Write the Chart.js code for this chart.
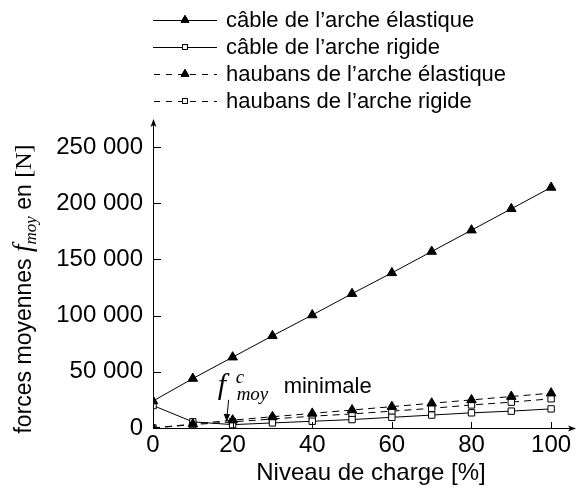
<!DOCTYPE html>
<html>
<head>
<meta charset="utf-8">
<script src="https://cdn.jsdelivr.net/npm/chart.js@4.4.0/dist/chart.umd.min.js"></script>
<style>
  html, body { margin: 0; padding: 0; background: #fff; }
  #wrap { width: 587px; height: 494px; }
</style>
</head>
<body>
<div id="wrap"><canvas id="graficoForces"></canvas></div>
<script>
// Données (niveau de charge en %, forces en N)
const niveaux = [0, 10, 20, 30, 40, 50, 60, 70, 80, 90, 100];
const cableElastique = [24000, 44000, 63000, 82000, 100500, 119500, 138000, 157000, 176000, 195000, 214000];
const cableRigide = [20000, 5500, 3000, 4500, 6000, 7500, 9500, 11500, 13500, 15000, 17000];
const haubansElastique = [0, 3500, 7000, 10000, 13000, 16000, 19000, 22000, 25000, 28000, 31000];
const haubansRigide = [0, 3000, 5500, 8000, 10500, 12500, 15000, 17500, 20500, 23000, 26000];

const nomsSeries = [
    "câble de l’arche élastique",
    "câble de l’arche rigide",
    "haubans de l’arche élastique",
    "haubans de l’arche rigide"
];
const ticksX = [0, 20, 40, 60, 80, 100];
const ticksY = [0, 50000, 100000, 150000, 200000, 250000];
const annotation = { x: 18.5, y: 5500, texte: "minimale" };

const SANS = "'Liberation Sans', 'Noto Sans', sans-serif";
const SERIF = "'Liberation Serif', 'DejaVu Serif', serif";

function points(valeurs) {
    return niveaux.map((x, i) => ({ x: x, y: valeurs[i] }));
}

function formatMilliers(v) {
    return String(v).replace(/\B(?=(\d{3})+(?!\d))/g, ' ');
}

// style commun des séries
const styleTriangle = { pointStyle: 'triangle', pointRadius: 5.5, pointBackgroundColor: '#000', pointBorderColor: '#000', pointBorderWidth: 1 };
const styleCarre = { pointStyle: 'rect', pointRadius: 4.5, pointBackgroundColor: '#fff', pointBorderColor: '#000', pointBorderWidth: 1 };
const tirets = [7, 5];

const series = [
    Object.assign({ label: nomsSeries[0], data: points(cableElastique), borderDash: [], order: 0 }, styleTriangle),
    Object.assign({ label: nomsSeries[1], data: points(cableRigide), borderDash: [], order: 2 }, styleCarre),
    Object.assign({ label: nomsSeries[2], data: points(haubansElastique), borderDash: tirets, order: 1 }, styleTriangle),
    Object.assign({ label: nomsSeries[3], data: points(haubansRigide), borderDash: tirets, order: 3 }, styleCarre)
];
series.forEach(s => {
    s.borderColor = '#000';
    s.borderWidth = 1;
    s.showLine = true;
    s.tension = 0;
    s.fill = false;
});

// Plugin : axes fléchés, graduations internes, légende, titres, annotation
const decorations = {
    id: 'decorations',
    afterDraw(chart) {
        const ctx = chart.ctx;
        const area = chart.chartArea;
        const sx = chart.scales.x;
        const sy = chart.scales.y;
        const x0 = sx.getPixelForValue(0);
        const y0 = sy.getPixelForValue(0);

        ctx.save();
        ctx.strokeStyle = '#000';
        ctx.fillStyle = '#000';
        ctx.lineWidth = 1;

        // axes
        ctx.beginPath();
        ctx.moveTo(x0, y0 + 0.5);
        ctx.lineTo(area.right, y0 + 0.5);
        ctx.moveTo(x0 + 0.5, y0);
        ctx.lineTo(x0 + 0.5, area.top);
        ctx.stroke();
        // flèches
        ctx.beginPath();
        ctx.moveTo(area.right + 1, y0 + 0.5);
        ctx.lineTo(area.right - 7, y0 - 2.5);
        ctx.lineTo(area.right - 5, y0 + 0.5);
        ctx.lineTo(area.right - 7, y0 + 3.5);
        ctx.closePath();
        ctx.fill();
        ctx.beginPath();
        ctx.moveTo(x0 + 0.5, area.top - 1);
        ctx.lineTo(x0 - 2.5, area.top + 7);
        ctx.lineTo(x0 + 0.5, area.top + 5);
        ctx.lineTo(x0 + 3.5, area.top + 7);
        ctx.closePath();
        ctx.fill();

        // graduations vers l'intérieur
        ctx.beginPath();
        ticksX.forEach(v => {
            if (v === 0) return;
            const px = Math.round(sx.getPixelForValue(v)) + 0.5;
            ctx.moveTo(px, y0);
            ctx.lineTo(px, y0 - 6);
        });
        ticksY.forEach(v => {
            if (v === 0) return;
            const py = Math.round(sy.getPixelForValue(v)) + 0.5;
            ctx.moveTo(x0, py);
            ctx.lineTo(x0 + 8, py);
        });
        ctx.stroke();

        // légende
        chart.data.datasets.forEach((ds, i) => {
            const y = 20 + 27 * i;
            ctx.save();
            ctx.setLineDash(ds.borderDash.length ? [6, 6] : []);
            ctx.lineDashOffset = -1;
            ctx.beginPath();
            ctx.moveTo(153, y + 0.5);
            ctx.lineTo(217, y + 0.5);
            ctx.stroke();
            ctx.restore();
            Chart.helpers.drawPoint(ctx, {
                pointStyle: ds.pointStyle,
                radius: ds.pointStyle === 'triangle' ? 4.5 : 3.5,
                rotation: 0,
                borderWidth: 1
            }, 185, y);
            ctx.fillStyle = ds.pointBackgroundColor;
            ctx.fill();
            ctx.strokeStyle = '#000';
            ctx.stroke();
            ctx.fillStyle = '#000';
            ctx.font = '22px ' + SANS;
            ctx.textBaseline = 'middle';
            ctx.textAlign = 'left';
            ctx.fillText(ds.label, 226, y + 1);
        });

        // titre de l'axe x
        ctx.font = '24px ' + SANS;
        ctx.textAlign = 'center';
        ctx.textBaseline = 'middle';
        ctx.fillText('Niveau de charge [%]', 371, 473);

        // titre de l'axe y (avec indice)
        const morceaux = [
            { t: 'forces moyennes ', f: '23px ' + SANS, dy: 0 },
            { t: 'f', f: 'italic 27px ' + SERIF, dy: 0 },
            { t: 'moy', f: 'italic 17px ' + SERIF, dy: 5 },
            { t: ' en ', f: '23px ' + SANS, dy: 0 },
            { t: '[N]', f: '24px ' + SERIF, dy: 0 }
        ];
        let total = 0;
        morceaux.forEach(m => { ctx.font = m.f; m.w = ctx.measureText(m.t).width; total += m.w; });
        ctx.save();
        ctx.translate(23, 289);
        ctx.rotate(-Math.PI / 2);
        ctx.textAlign = 'left';
        ctx.textBaseline = 'alphabetic';
        let cx = -total / 2;
        morceaux.forEach(m => {
            ctx.font = m.f;
            ctx.fillText(m.t, cx, 8 + m.dy);
            cx += m.w;
        });
        ctx.restore();

        // annotation du minimum
        const ax = sx.getPixelForValue(annotation.x);
        const ay = sy.getPixelForValue(annotation.y);
        ctx.beginPath();
        ctx.moveTo(ax + 2, ay - 22);
        ctx.lineTo(ax, ay - 2);
        ctx.stroke();
        ctx.beginPath();
        ctx.moveTo(ax, ay);
        ctx.lineTo(ax - 3, ay - 8);
        ctx.lineTo(ax + 3.5, ay - 7.5);
        ctx.closePath();
        ctx.fill();
        ctx.textAlign = 'left';
        ctx.textBaseline = 'alphabetic';
        ctx.font = 'italic 30px ' + SERIF;
        ctx.fillText('f', ax - 9, ay - 28);
        ctx.font = 'italic 19px ' + SERIF;
        ctx.fillText('c', ax + 9, ay - 39);
        ctx.fillText('moy', ax + 10, ay - 22);
        ctx.font = '22px ' + SANS;
        ctx.fillText(annotation.texte, ax + 57, ay - 29);

        ctx.restore();
    }
};

function inicializarGrafico() {
    const ctx = document.getElementById('graficoForces');
    new Chart(ctx, {
        type: 'scatter',
        data: { datasets: series },
        options: {
            responsive: true,
            maintainAspectRatio: false,
            animation: false,
            layout: { padding: { top: 120, right: 12, left: 0, bottom: 0 } },
            plugins: {
                legend: { display: false },
                tooltip: { enabled: false }
            },
            scales: {
                x: {
                    type: 'linear',
                    min: 0,
                    max: 106,
                    grid: { display: false, drawTicks: false },
                    border: { display: false },
                    afterBuildTicks: scale => { scale.ticks = ticksX.map(v => ({ value: v })); },
                    afterFit: scale => { scale.height = 66; },
                    ticks: {
                        color: '#000',
                        padding: 3,
                        maxRotation: 0,
                        font: { family: SANS, size: 24 },
                        callback: v => String(v)
                    }
                },
                y: {
                    min: 0,
                    max: 274000,
                    grid: { display: false, drawTicks: false },
                    border: { display: false },
                    afterBuildTicks: scale => { scale.ticks = ticksY.map(v => ({ value: v })); },
                    afterFit: scale => { scale.width = 153; },
                    ticks: {
                        color: '#000',
                        padding: 10,
                        font: { family: SANS, size: 24 },
                        callback: v => formatMilliers(v)
                    }
                }
            }
        },
        plugins: [decorations]
    });
}

document.addEventListener('DOMContentLoaded', inicializarGrafico);
</script>
</body>
</html>
